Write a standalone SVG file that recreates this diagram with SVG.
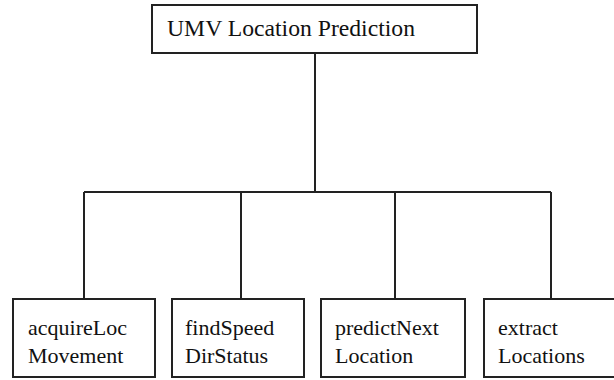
<svg xmlns="http://www.w3.org/2000/svg" width="614" height="380" viewBox="0 0 614 380">
<rect width="614" height="380" fill="#fff"/>
<g id="connectors" fill="none" stroke="#222" stroke-width="2">
<line x1="315" y1="53" x2="315" y2="192"/>
<line x1="84" y1="192" x2="551" y2="192"/>
<line x1="84" y1="192" x2="84" y2="299"/>
<line x1="241" y1="192" x2="241" y2="299"/>
<line x1="395" y1="192" x2="395" y2="299"/>
<line x1="551" y1="192" x2="551" y2="299"/>
</g>
<g id="root">
<rect x="152" y="5" width="325" height="48" fill="#fff" stroke="#222" stroke-width="2"/>
<text x="167" y="36" font-family="Liberation Serif, serif" font-size="24" fill="#111" textLength="248" lengthAdjust="spacingAndGlyphs">UMV Location Prediction</text>
</g>
<g id="acquireLocMovement">
<rect x="13" y="299" width="142" height="78" fill="#fff" stroke="#222" stroke-width="2"/>
<text x="28" y="335" font-family="Liberation Serif, serif" font-size="22" fill="#111">acquireLoc</text>
<text x="28" y="363" font-family="Liberation Serif, serif" font-size="22" fill="#111">Movement</text>
</g>
<g id="findSpeedDirStatus">
<rect x="172" y="299" width="132" height="78" fill="#fff" stroke="#222" stroke-width="2"/>
<text x="185" y="335" font-family="Liberation Serif, serif" font-size="22" fill="#111">findSpeed</text>
<text x="185" y="363" font-family="Liberation Serif, serif" font-size="22" fill="#111">DirStatus</text>
</g>
<g id="predictNextLocation">
<rect x="321" y="299" width="144" height="78" fill="#fff" stroke="#222" stroke-width="2"/>
<text x="335" y="335" font-family="Liberation Serif, serif" font-size="22" fill="#111">predictNext</text>
<text x="335" y="363" font-family="Liberation Serif, serif" font-size="22" fill="#111">Location</text>
</g>
<g id="extractLocations">
<rect x="484" y="299" width="132" height="78" fill="#fff" stroke="#222" stroke-width="2"/>
<text x="498" y="335" font-family="Liberation Serif, serif" font-size="22" fill="#111">extract</text>
<text x="498" y="363" font-family="Liberation Serif, serif" font-size="22" fill="#111">Locations</text>
</g>
</svg>
